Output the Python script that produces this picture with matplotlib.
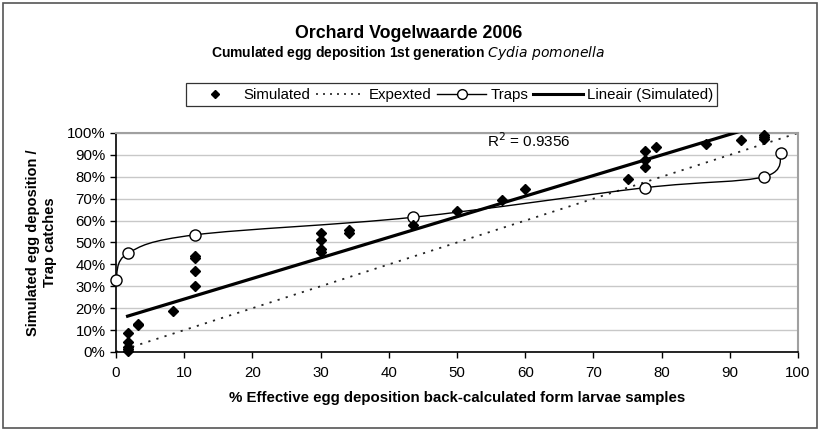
import numpy as np
import matplotlib
matplotlib.use('Agg')
import matplotlib.pyplot as plt
from matplotlib.path import Path
from matplotlib.patches import PathPatch, Rectangle
from matplotlib.lines import Line2D
from matplotlib.ticker import MultipleLocator, FuncFormatter

plt.rcParams['font.family'] = ['Liberation Sans', 'DejaVu Sans']

# simulated egg deposition (x = % effective, y = % simulated)
sim_x = [1.7, 1.7, 1.7, 1.7, 1.7, 3.3, 3.3, 8.3, 11.6, 11.6, 11.6, 11.6,
         30.0, 30.0, 30.0, 30.0, 34.2, 34.2, 43.5, 50.0, 56.6, 60.0,
         75.0, 77.5, 77.5, 77.5, 79.2, 86.5, 91.7, 95.0, 95.0, 95.0]
sim_y = [8.8, 4.6, 2.5, 1.3, 0.5, 13.0, 12.3, 18.5, 44.0, 43.0, 36.8, 30.3,
         54.2, 51.3, 47.0, 45.5, 55.8, 54.2, 57.8, 64.4, 69.2, 74.2,
         78.8, 91.8, 87.8, 84.3, 93.5, 95.2, 96.7, 99.0, 98.0, 97.3]

# trap catches
trap_x = [0.0, 1.7, 11.6, 43.5, 77.5, 95.0, 97.5]
trap_y = [33.0, 45.0, 53.5, 61.5, 75.0, 80.0, 91.0]

# expected (1:1)
exp_x = [0, 100]
exp_y = [0, 100]

fig = plt.figure(figsize=(8.18, 4.29), dpi=100)
ax = fig.add_axes([0.1418, 0.1795, 0.8338, 0.5105])

# outer frame
fig.patches.append(Rectangle((0.004, 0.003), 0.995, 0.99, transform=fig.transFigure,
                             fill=False, edgecolor='#555555', lw=1.2))

ax.set_xlim(0, 100)
ax.set_ylim(0, 100)
ax.xaxis.set_major_locator(MultipleLocator(10))
ax.yaxis.set_major_locator(MultipleLocator(10))
ax.yaxis.set_major_formatter(FuncFormatter(lambda v, p: '%d%%' % v))
ax.grid(axis='y', color='#c8c8c8', lw=1)
ax.set_axisbelow(True)
ax.tick_params(direction='out', length=4, width=1, labelsize=10.8, color='black')
ax.tick_params(axis='x', pad=6)
for s in ['top', 'right']:
    ax.spines[s].set_color('#a0a0a0')
    ax.spines[s].set_linewidth(1.5)
for s in ['left', 'bottom']:
    ax.spines[s].set_linewidth(1.2)

# expected
ax.plot(exp_x, exp_y, color='#222222', lw=1.3, ls=(0, (1.2, 3.5)))

# traps: smoothed line (bezier, as Excel does)
px = np.array(trap_x)
py = np.array(trap_y)
verts = [(px[0], py[0])]
codes = [Path.MOVETO]
n = len(px)
for i in range(n - 1):
    p0 = np.array([px[max(i - 1, 0)], py[max(i - 1, 0)]])
    p1 = np.array([px[i], py[i]])
    p2 = np.array([px[i + 1], py[i + 1]])
    p3 = np.array([px[min(i + 2, n - 1)], py[min(i + 2, n - 1)]])
    c1 = p1 + (p2 - p0) / 6
    c2 = p2 - (p3 - p1) / 6
    verts += [tuple(c1), tuple(c2), tuple(p2)]
    codes += [Path.CURVE4] * 3
ax.add_patch(PathPatch(Path(verts, codes), fill=False, edgecolor='black', lw=1.0, zorder=3))
ax.plot(trap_x, trap_y, 'o', ms=8, mfc='white', mec='black', mew=1.0, zorder=4, clip_on=False)

# linear trend of simulated
a, b = np.polyfit(sim_x, sim_y, 1)
tx = np.array([min(sim_x), max(sim_x)])
ax.plot(tx, a * tx + b, color='black', lw=2.3, zorder=3)

# simulated points
ax.plot(sim_x, sim_y, 'D', ms=5, color='black', zorder=5, clip_on=False)

ax.text(54.4, 96.3, 'R$^2$ = 0.9356', fontsize=11, ha='left', va='center')

ax.set_xlabel('% Effective egg deposition back-calculated form larvae samples',
              fontsize=10.8, fontweight='bold', labelpad=8)
ax.set_ylabel('Simulated egg deposition /\nTrap catches', fontsize=10.5,
              fontweight='bold', labelpad=7, linespacing=1.3)

fig.text(0.499, 0.923, 'Orchard Vogelwaarde 2006', ha='center', va='center',
         fontsize=12.8, fontweight='bold')
fig.text(0.499, 0.877, 'Cumulated egg deposition 1st generation $\\bf{\\it{Cydia\\ pomonella}}$',
         ha='center', va='center', fontsize=10, fontweight='bold')

handles = [
    Line2D([], [], ls='none', marker='D', ms=4.5, color='black'),
    Line2D([], [], color='#222222', lw=1.2, ls=(0, (1.2, 3))),
    Line2D([], [], color='black', lw=1.0, marker='o', ms=7, mfc='white', mec='black'),
    Line2D([], [], color='black', lw=2.2),
]
labels = ['Simulated', 'Expexted', 'Traps', 'Lineair (Simulated)']
leg = fig.legend(handles, labels, loc='center', bbox_to_anchor=(0.552, 0.779), ncol=4,
                 fontsize=10.8, frameon=True, fancybox=False, edgecolor='black',
                 handlelength=3.3, handletextpad=0.25, columnspacing=0.35,
                 borderpad=0.3, borderaxespad=0)
leg.get_frame().set_linewidth(0.9)

fig.savefig('out.png', dpi=100)
